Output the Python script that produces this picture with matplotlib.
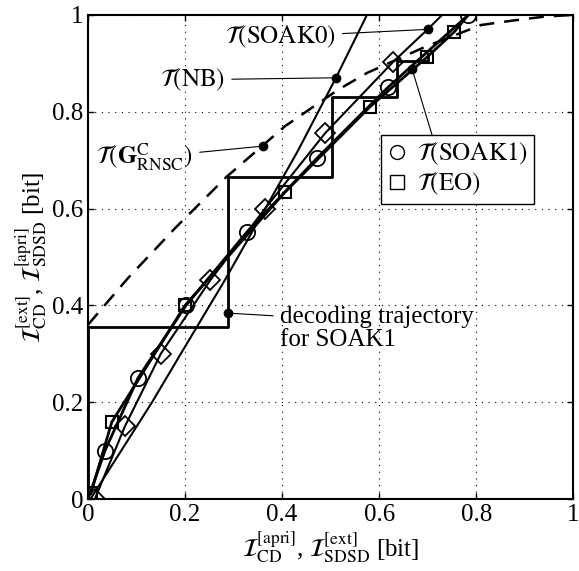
import matplotlib
matplotlib.use("Agg")
import matplotlib.pyplot as plt
from matplotlib.lines import Line2D

plt.rcParams["font.family"] = ["Liberation Serif", "DejaVu Serif"]
plt.rcParams["mathtext.fontset"] = "stix"
plt.rcParams["font.size"] = 17

# --- EXIT curves ---
soak1_x = [0.0, 0.035, 0.103, 0.202, 0.328, 0.472, 0.619, 0.784]
soak1_y = [0.0, 0.100, 0.250, 0.400, 0.552, 0.704, 0.851, 1.000]

eo_x = [0.006, 0.049, 0.200, 0.406, 0.581, 0.699, 0.755, 0.784]
eo_y = [0.012, 0.159, 0.400, 0.634, 0.810, 0.913, 0.965, 1.000]

soak0_x = [0.014, 0.076, 0.150, 0.252, 0.365, 0.489, 0.629, 0.700, 0.730]
soak0_y = [0.000, 0.150, 0.300, 0.452, 0.600, 0.756, 0.903, 0.970, 1.000]

nb_x = [0.005, 0.132, 0.190, 0.282, 0.433, 0.511, 0.575]
nb_y = [0.000, 0.200, 0.298, 0.452, 0.720, 0.870, 1.000]

rnsc_x = [0.0, 0.083, 0.180, 0.285, 0.406, 0.515, 0.575, 0.695, 0.810, 0.874, 0.938, 1.0]
rnsc_y = [0.36, 0.457, 0.560, 0.665, 0.770, 0.845, 0.880, 0.934, 0.979, 0.988, 0.996, 1.0]

traj_x = [0.0, 0.0, 0.289, 0.289, 0.503, 0.503, 0.637, 0.637, 0.700, 0.700]
traj_y = [0.0, 0.355, 0.355, 0.665, 0.665, 0.830, 0.830, 0.905, 0.905, 0.920]

# marker positions on the curves (markers drawn sparsely along each curve)
soak1_mk = list(range(1, len(soak1_x)))
eo_mk = list(range(0, 7))
soak0_mk = list(range(0, 7))

fig = plt.figure(figsize=(5.79, 5.71), dpi=100)
ax = fig.add_axes([0.152, 0.126, 0.838, 0.848])

ax.plot(rnsc_x, rnsc_y, color="k", lw=1.8, ls=(0, (6, 4)))
ax.plot(nb_x, nb_y, color="k", lw=1.5)
ax.plot(soak0_x, soak0_y, color="k", lw=1.5, marker="D", ms=10.5,
        mfc="none", mew=1.3, markevery=soak0_mk)
ax.plot(eo_x, eo_y, color="k", lw=2.0, marker="s", ms=9,
        mfc="none", mew=1.5, markevery=eo_mk)
ax.plot(soak1_x, soak1_y, color="k", lw=2.0, marker="o", ms=11,
        mfc="none", mew=1.3, markevery=soak1_mk)
ax.plot(traj_x, traj_y, color="k", lw=2.0)

# pointer labels
dot_style = dict(color="k", marker="o", ms=6, ls="none")
arrow = dict(arrowstyle="-", lw=0.8, color="k", shrinkA=3, shrinkB=0)
lab_size = 18

labels = [
    (r"$\mathcal{T}(\mathrm{SOAK0})$", (0.700, 0.970), (0.510, 0.955)),
    (r"$\mathcal{T}(\mathrm{NB})$", (0.511, 0.870), (0.282, 0.866)),
    (r"$\mathcal{T}(\mathbf{G}_{\mathrm{RNSC}}^{\mathrm{C}})$", (0.361, 0.729), (0.216, 0.705)),
]
for txt, pt, tpos in labels:
    ax.plot(*pt, **dot_style)
    ax.annotate(txt, xy=pt, xytext=tpos, ha="right", va="center",
                fontsize=lab_size, arrowprops=arrow)

ax.plot(0.289, 0.384, **dot_style)
ax.annotate("decoding trajectory\nfor SOAK1", xy=(0.289, 0.384),
            xytext=(0.396, 0.398), ha="left", va="top", linespacing=1.05,
            fontsize=lab_size, arrowprops=dict(arrow, relpos=(0, 0.78)))

ax.plot(0.668, 0.888, **dot_style)
ax.annotate("", xy=(0.668, 0.888), xytext=(0.709, 0.752),
            arrowprops=dict(arrowstyle="-", lw=0.8, color="k",
                            shrinkA=0, shrinkB=0))

handles = [
    Line2D([], [], color="k", marker="o", ms=10, mfc="none", ls="none",
           label=r"$\mathcal{T}(\mathrm{SOAK1})$"),
    Line2D([], [], color="k", marker="s", ms=10, mfc="none", ls="none",
           label=r"$\mathcal{T}(\mathrm{EO})$"),
]
leg = ax.legend(handles=handles, loc="upper left", bbox_to_anchor=(0.604, 0.752),
                borderaxespad=0, fancybox=False, framealpha=1, handlelength=0.8,
                handletextpad=0.4, borderpad=0.25, labelspacing=0.15,
                fontsize=lab_size)
leg.get_frame().set_edgecolor("k")
leg.get_frame().set_linewidth(1.0)

ax.set_xlim(0, 1)
ax.set_ylim(0, 1)
ticks = [0, 0.2, 0.4, 0.6, 0.8, 1]
tick_labels = ["0", "0.2", "0.4", "0.6", "0.8", "1"]
ax.set_xticks(ticks, tick_labels)
ax.set_yticks(ticks, tick_labels)
ax.tick_params(direction="in", top=True, right=True, length=4, width=1,
               labelsize=lab_size)
ax.grid(True, ls=(0, (1, 5)), color="k", lw=0.8)
for s in ax.spines.values():
    s.set_linewidth(1.5)

ax.set_xlabel(r"$\mathcal{I}_{\mathrm{CD}}^{[\mathrm{apri}]}$, $\mathcal{I}_{\mathrm{SDSD}}^{[\mathrm{ext}]}$ [bit]",
              labelpad=2, fontsize=lab_size)
ax.set_ylabel(r"$\mathcal{I}_{\mathrm{CD}}^{[\mathrm{ext}]}$, $\mathcal{I}_{\mathrm{SDSD}}^{[\mathrm{apri}]}$ [bit]",
              labelpad=2, fontsize=lab_size)

fig.savefig("out.png", dpi=100)
